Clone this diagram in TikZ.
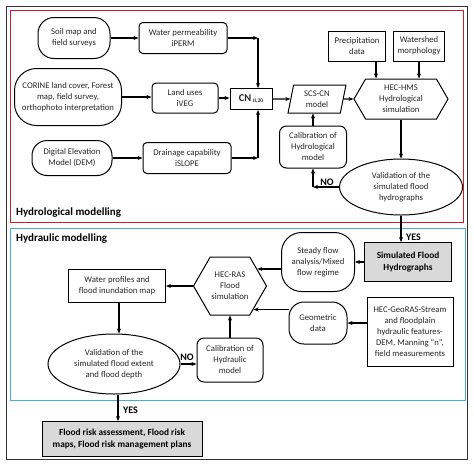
\documentclass[tikz,border=0pt]{standalone}
\usepackage{fontspec}
\setmainfont{Carlito}
\usetikzlibrary{shapes.geometric,shapes.symbols,arrows.meta}
\definecolor{frred}{RGB}{200,30,40}
\definecolor{frcyan}{RGB}{75,172,210}
\tikzset{
  base/.style={draw, line width=1pt, align=center, inner sep=1pt,
    font=\fontsize{8.7}{11}\selectfont, text=black!85},
  pill/.style={base, rounded corners=#1},
  rbox/.style={base, rounded corners=4pt},
  sbox/.style={base},
  gbox/.style={base, fill=gray!30, text=black, font=\bfseries\fontsize{9.3}{11.5}\selectfont},
  ell/.style={base, ellipse, inner sep=0pt},
  hexa/.style={base, signal, signal to=east and west, signal pointer angle=120},
  para/.style={base, trapezium, trapezium left angle=80, trapezium right angle=100, trapezium stretches=true},
  arr/.style={-{Stealth[length=5pt,width=4pt]}, line width=1.2pt},
  seclabel/.style={anchor=west, font=\bfseries\fontsize{11}{13}\selectfont, inner sep=0pt},
  yesno/.style={font=\bfseries\fontsize{10}{12}\selectfont, inner sep=0pt},
}
\begin{document}
\begin{tikzpicture}[x=1pt,y=-1pt]
\useasboundingbox (0,0) rectangle (474,467);
% frames
\draw[line width=0.8pt, black!80] (6,6) rectangle (467,459);
\draw[line width=0.9pt, frred] (10,10) rectangle (463,222);
\draw[line width=0.9pt, frcyan] (10,228) rectangle (465,400);
\node[seclabel] (lab1) at (16,213) {Hydrological modelling};
\node[seclabel] (lab2) at (16,239) {Hydraulic modelling};

% hydrological nodes
\node[pill=16pt, minimum width=72pt, minimum height=41pt] (soil) at (74,38) {Soil map and\\field surveys};
\node[rbox, minimum width=88pt, minimum height=31pt] (wp) at (183,38) {Water permeability\\iPERM};
\node[pill=22pt, minimum width=107pt, minimum height=57pt] (corine) at (68,97) {CORINE land cover, Forest\\map, field survey,\\orthophoto interpretation};
\node[rbox, minimum width=66pt, minimum height=30pt] (lu) at (185,98) {Land uses\\iVEG};
\node[sbox, minimum width=42pt, minimum height=21pt] (cn) at (251,99) {\fontsize{10.5}{12}\bfseries CN\,\raisebox{-1.5pt}{\fontsize{5.5}{6}\selectfont II,20}};
\node[pill=15pt, minimum width=80pt, minimum height=35pt] (dem) at (72,158) {Digital Elevation\\Model (DEM)};
\node[rbox, minimum width=88pt, minimum height=31pt] (dr) at (187,158) {Drainage capability\\iSLOPE};
\node[para, minimum width=58pt, minimum height=28pt] (scs) at (317,99) {SCS-CN\\model};
\node[rbox, rounded corners=7pt, minimum width=67pt, minimum height=42pt] (cal1) at (313,147) {Calibration of\\Hydrological\\model};
\node[sbox, minimum width=57pt, minimum height=30pt] (pre) at (357,46) {Precipitation\\data};
\node[sbox, minimum width=51pt, minimum height=30pt] (ws) at (419,46) {Watershed\\morphology};
\node[hexa, minimum width=94pt, minimum height=40pt] (hms) at (401,99) {HEC-HMS\\Hydrological\\simulation};
\node[ell, minimum width=123pt, minimum height=56pt] (val1) at (401,187) {Validation of the\\simulated flood\\hydrographs};

% hydraulic nodes
\node[gbox, minimum width=87pt, minimum height=39pt] (sim) at (408,262) {Simulated Flood\\Hydrographs};
\node[pill=20pt, minimum width=73pt, minimum height=59pt] (steady) at (318,262) {Steady flow\\analysis/Mixed\\flow regime};
\node[hexa, minimum width=73pt, minimum height=58pt] (ras) at (230,286) {HEC-RAS\\Flood\\simulation};
\node[sbox, minimum width=97pt, minimum height=33pt] (wpf) at (117,286) {Water profiles and\\flood inundation map};
\node[ell, minimum width=132pt, minimum height=60pt] (val2) at (114,364) {Validation of the\\simulated flood extent\\and flood depth};
\node[rbox, rounded corners=7pt, minimum width=66pt, minimum height=44pt] (cal2) at (230,360) {Calibration of\\Hydraulic\\model};
\node[pill=15pt, minimum width=58pt, minimum height=42pt] (geo) at (318,323) {Geometric\\data};
\node[sbox, minimum width=86pt, minimum height=69pt] (hgr) at (410,332) {HEC-GeoRAS-Stream\\and floodplain\\hydraulic features-\\DEM, Manning “n”,\\field measurements};
\node[gbox, minimum width=160pt, minimum height=35pt] (frisk) at (122,439) {Flood risk assessment, Flood risk\\maps, Flood risk management plans};

% connectors (hydrological)
\coordinate (c1) at (258,38);
\coordinate (c2) at (258,158);
\coordinate (c3) at (313,187);
\draw[arr] (soil.east) -- (wp.west);
\draw[arr] (wp.east) -- (c1);
\draw[arr] (c1) -- (c1 |- cn.north);
\draw[arr] (corine.east) -- (corine.east -| lu.west);
\draw[arr] (lu.east) -- (lu.east -| cn.west);
\draw[arr] (dem.east) -- (dr.west);
\draw[arr] (dr.east) -- (c2);
\draw[arr] (c2) -- (c2 |- cn.south);
\draw[arr] (cn.east) -- (scs.west);
\draw[arr] (scs.east) -- (hms.west);
\draw[arr] ([xshift=19pt]pre.south) -- ([xshift=19pt]pre.south |- hms.north);
\draw[arr] (ws.south) -- (ws.south |- hms.north);
\draw[arr] (hms.south) -- (val1.north);
\draw[arr] (val1.west) -- (c3);
\draw[arr] (c3) -- (cal1.south);
\draw[arr] (cal1.north) -- (cal1.north |- scs.south);
\node[yesno, anchor=south] (no1) at (327,186) {NO};
\draw[arr] (val1.south) -- (val1.south |- sim.north);
\node[yesno, anchor=west] (yes1) at (406,237) {YES};

% connectors (hydraulic)
\draw[arr] (sim.west |- steady.east) -- (steady.east);
\draw[arr] (ras.32 -| steady.west) -- (ras.32);
\draw[arr] (hgr.west |- geo.east) -- (geo.east);
\draw[arr] (ras.-45 -| geo.west) -- (ras.-45);
\draw[arr] (ras.west) -- (ras.west -| wpf.east);
\draw[arr] ([xshift=2pt]wpf.south) -- ([xshift=2pt]wpf.south |- val2.north);
\draw[arr] (val2.east) -- (val2.east -| cal2.west);
\node[yesno, anchor=south] (no2) at (187,361) {NO};
\draw[arr] (cal2.north) -- (ras.south);
\draw[arr] ([xshift=4pt]val2.south) -- ([xshift=4pt]val2.south |- frisk.north);
\node[yesno, anchor=west] (yes2) at (123,410) {YES};
\end{tikzpicture}
\end{document}
